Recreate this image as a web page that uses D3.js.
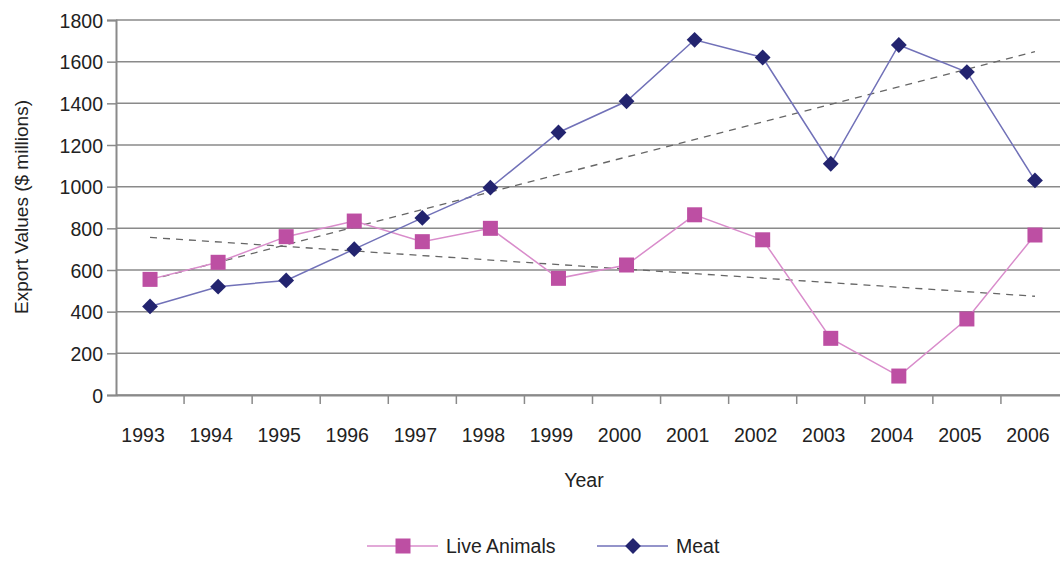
<!DOCTYPE html>
<html><head><meta charset="utf-8">
<script src="https://cdn.jsdelivr.net/npm/d3@7"></script>
<style>body{margin:0;background:#fff;overflow:hidden}text{font-family:"Liberation Sans",Arial,sans-serif;fill:#222}</style>
</head><body>
<svg id="c" width="1060" height="561"></svg>
<script>
const years = ["1993","1994","1995","1996","1997","1998","1999","2000","2001","2002","2003","2004","2005","2006"];
const liveAnimals = [555,637,760,835,736,800,560,624,865,745,272,91,365,768];
const meat = [425,520,550,700,850,995,1260,1410,1705,1620,1110,1680,1550,1030];
const yTicks = [0,200,400,600,800,1000,1200,1400,1600,1800];
const seriesNames = ["Live Animals","Meat"];

(function(){
const svg = d3.select("#c");
const pl = 116, pr = 1069, pt = 20, pb = 395;
const x = d3.scaleBand().domain(years).range([pl, pr]);
const y = d3.scaleLinear().domain([0,1800]).range([pb, pt]);
const cx = d => x(d) + x.bandwidth()/2;

// gridlines
svg.append("g").selectAll("line").data(yTicks).join("line")
  .attr("x1", pl).attr("x2", 1060).attr("y1", d=>y(d)).attr("y2", d=>y(d))
  .attr("stroke", "#8a8a8a").attr("stroke-width", 1.5);

// y axis
const ya = svg.append("g").attr("transform", `translate(${pl},0)`)
  .call(d3.axisLeft(y).tickValues(yTicks).tickFormat(d3.format("d")).tickSize(9).tickPadding(4));
ya.select(".domain").attr("stroke","#8a8a8a").attr("stroke-width",2);
ya.selectAll(".tick line").attr("stroke","#8a8a8a").attr("stroke-width",1.5);
ya.selectAll("text").attr("font-size", 19.5).attr("fill","#222").attr("dy","0.36em");

// x axis
const xa = svg.append("g").attr("transform", `translate(0,${pb})`)
  .call(d3.axisBottom(x).tickSize(0).tickPadding(0));
xa.select(".domain").attr("stroke","#8a8a8a").attr("stroke-width",2);
xa.selectAll(".tick text").attr("font-size", 19.5).attr("fill","#222")
  .attr("transform","translate(-7,0)").attr("y", 47).attr("dy", 0);
svg.append("g").selectAll("line").data(years.slice(1)).join("line")
  .attr("x1", d=>x(d)).attr("x2", d=>x(d)).attr("y1", pb).attr("y2", pb+9)
  .attr("stroke","#8a8a8a").attr("stroke-width",1.5);

// trendlines
function trend(vals){
  const n = vals.length, mx = (n-1)/2, my = d3.mean(vals);
  let sxy=0, sxx=0;
  vals.forEach((v,i)=>{sxy+=(i-mx)*(v-my); sxx+=(i-mx)*(i-mx);});
  const b = sxy/sxx, a = my - b*mx;
  return [a, a + b*(n-1)];
}
[liveAnimals, meat].forEach(vals=>{
  const t = trend(vals);
  svg.append("line")
    .attr("x1", cx(years[0])).attr("y1", y(t[0]))
    .attr("x2", cx(years[years.length-1])).attr("y2", y(t[1]))
    .attr("stroke","#666").attr("stroke-width",1.3).attr("stroke-dasharray","7,6");
});

const line = d3.line().x((d,i)=>cx(years[i])).y(d=>y(d));
const liveLine = "#d98ccb", liveMark = "#bd4fa3";
const meatLine = "#7171b8", meatMark = "#23246f";

svg.append("path").datum(liveAnimals).attr("d", line).attr("fill","none")
  .attr("stroke", liveLine).attr("stroke-width",1.5);
svg.append("path").datum(meat).attr("d", line).attr("fill","none")
  .attr("stroke", meatLine).attr("stroke-width",1.5);

const sq = 15;
svg.append("g").selectAll("rect").data(liveAnimals).join("rect")
  .attr("x",(d,i)=>cx(years[i])-sq/2).attr("y",d=>y(d)-sq/2)
  .attr("width",sq).attr("height",sq).attr("fill",liveMark);
const diamond = d3.symbol().type(d3.symbolSquare).size(125);
svg.append("g").selectAll("path").data(meat).join("path")
  .attr("d", diamond())
  .attr("transform",(d,i)=>`translate(${cx(years[i])},${y(d)}) rotate(45)`)
  .attr("fill",meatMark);

// axis titles
svg.append("text").attr("transform","translate(28,207) rotate(-90)")
  .attr("text-anchor","middle").attr("font-size",19).text("Export Values ($ millions)");
svg.append("text").attr("x",584).attr("y",487).attr("text-anchor","middle")
  .attr("font-size",19.5).text("Year");

// legend
const lg = svg.append("g");
lg.append("line").attr("x1",367).attr("x2",438).attr("y1",546).attr("y2",546).attr("stroke",liveLine).attr("stroke-width",1.5);
lg.append("rect").attr("x",403-sq/2).attr("y",546-sq/2).attr("width",sq).attr("height",sq).attr("fill",liveMark);
lg.append("text").attr("x",446).attr("y",553).attr("font-size",19.5).text(seriesNames[0]);
lg.append("line").attr("x1",597).attr("x2",668).attr("y1",546).attr("y2",546).attr("stroke",meatLine).attr("stroke-width",1.5);
lg.append("path").attr("d",diamond()).attr("transform","translate(633,546) rotate(45)").attr("fill",meatMark);
lg.append("text").attr("x",676).attr("y",553).attr("font-size",19.5).text(seriesNames[1]);
})();
</script>
</body></html>
